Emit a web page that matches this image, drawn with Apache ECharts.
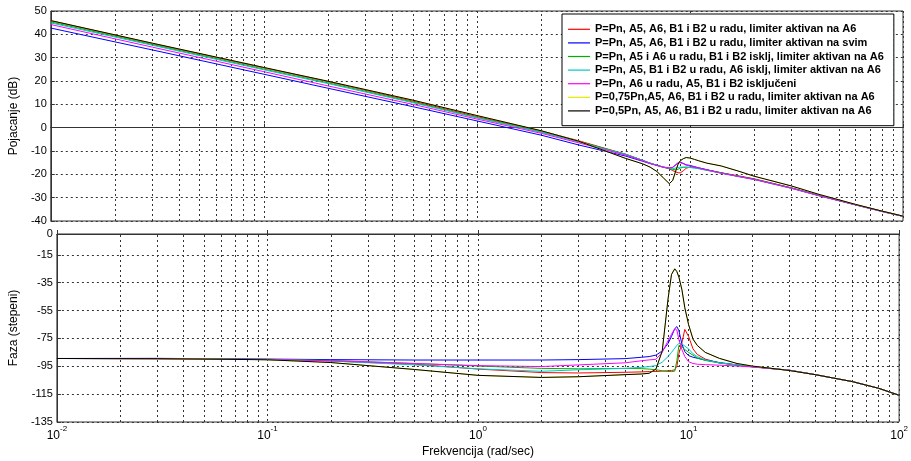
<!DOCTYPE html>
<html>
<head>
<meta charset="utf-8">
<script src="https://cdn.jsdelivr.net/npm/echarts@6/dist/echarts.min.js"></script>
<style>
  html, body { margin: 0; padding: 0; background: #fff; }
  #chart { width: 911px; height: 461px; }
</style>
</head>
<body>
<div id="chart"></div>
<script>
// Frequency points (rad/sec), shared by all curves
const freq = [0.01, 0.03, 0.1, 0.2, 0.5, 1, 2, 3, 5, 6, 6.5, 7, 7.5, 8, 8.3, 8.6, 8.8, 9, 9.3, 9.6, 10, 10.5, 11, 12, 14, 17, 20, 30, 40, 60, 80, 100];

// Series names
const names = [
  'P=Pn, A5, A6, B1 i B2 u radu, limiter aktivan na A6',
  'P=Pn, A5, A6, B1 i B2 u radu, limiter aktivan na svim',
  'P=Pn, A5 i A6 u radu, B1 i B2 isklj, limiter aktivan na A6',
  'P=Pn, A5, B1 i B2 u radu, A6 isklj, limiter aktivan na A6',
  'P=Pn, A6 u radu, A5, B1 i B2 isključeni',
  'P=0,75Pn,A5, A6, B1 i B2 u radu, limiter aktivan na A6',
  'P=0,5Pn, A5, A6, B1 i B2 u radu, limiter aktivan na A6'
];
const colors = ['#ff0000', '#0000ff', '#00b000', '#00c8c8', '#ff00ff', '#e6e600', '#000000'];

// Gain (dB)
const magRed     = [45.8, 36.0, 25.6, 19.7, 11.4, 4.8, -1.4, -5.6, -11.4, -14.0, -15.2, -16.1, -17.0, -17.6, -18.4, -19.0, -19.3, -19.4, -18.5, -17.4, -16.9, -17.0, -17.4, -18.1, -19.3, -20.7, -21.9, -25.8, -28.9, -33.0, -35.8, -37.9];
const magBlue    = [42.7, 33.3, 22.9, 16.9, 9.0, 2.9, -3.2, -7.4, -12.2, -14.4, -15.4, -16.2, -16.9, -17.3, -17.0, -15.8, -15.0, -14.8, -15.3, -15.9, -16.2, -16.7, -17.2, -18.0, -19.4, -20.9, -22.1, -25.9, -29.0, -33.1, -35.9, -38.0];
const magGreen   = [45.3, 35.6, 25.1, 19.2, 11.0, 4.4, -1.8, -5.9, -11.4, -14.0, -15.2, -16.1, -16.9, -17.5, -17.9, -18.1, -17.8, -17.3, -17.0, -16.9, -17.0, -17.2, -17.5, -18.2, -19.4, -20.9, -22.1, -25.9, -29.0, -33.1, -35.9, -38.0];
const magCyan    = [44.9, 35.3, 24.8, 18.9, 10.7, 4.2, -2.0, -6.1, -11.5, -14.0, -15.2, -16.1, -16.9, -17.4, -17.5, -17.3, -17.1, -16.9, -16.9, -17.0, -17.1, -17.3, -17.6, -18.3, -19.5, -21.0, -22.2, -26.0, -29.1, -33.1, -36.0, -38.0];
const magMagenta = [44.2, 34.5, 24.0, 17.9, 10.0, 3.7, -2.4, -6.5, -11.8, -14.2, -15.3, -16.2, -16.9, -17.3, -17.0, -15.9, -15.2, -15.0, -15.5, -16.1, -16.4, -16.9, -17.3, -18.1, -19.5, -21.0, -22.2, -26.0, -29.1, -33.1, -36.0, -38.0];
const magYellow  = [45.9, 36.2, 25.8, 19.9, 11.8, 5.2, -1.3, -5.8, -13.2, -15.5, -16.9, -18.8, -21.5, -24.0, -22.6, -18.2, -15.6, -14.2, -13.3, -12.8, -13.0, -13.6, -14.2, -15.2, -16.4, -18.7, -20.8, -25.0, -28.5, -32.9, -35.8, -37.9];
const magBlack   = [45.9, 36.2, 25.8, 19.9, 11.8, 5.2, -1.3, -5.8, -13.2, -15.5, -16.9, -18.8, -21.5, -24.0, -22.6, -18.2, -15.6, -14.2, -13.3, -12.8, -13.0, -13.6, -14.2, -15.2, -16.4, -18.7, -20.8, -25.0, -28.5, -32.9, -35.8, -37.9];

// Phase (degrees)
const phRed     = [-89.4, -89.6, -90.2, -91.2, -93.5, -97.0, -99.5, -99.8, -99.3, -99.0, -98.8, -98.7, -98.5, -98.2, -98.0, -97.6, -95.0, -86.0, -78.0, -68.5, -73.5, -82.5, -86.5, -89.8, -92.6, -94.2, -95.3, -97.8, -101.0, -106.0, -110.8, -115.8];
const phBlue    = [-89.4, -89.3, -89.8, -90.2, -90.5, -90.5, -90.5, -90.2, -89.5, -88.5, -88.0, -87.0, -84.0, -78.5, -73.5, -68.0, -66.5, -69.5, -79.0, -84.5, -87.3, -88.5, -89.2, -90.5, -92.3, -94.0, -95.2, -97.8, -101.0, -106.0, -110.8, -115.8];
const phGreen   = [-89.4, -89.5, -90.0, -90.8, -93.0, -94.8, -96.5, -96.8, -96.5, -96.7, -97.0, -97.5, -98.2, -98.7, -98.8, -98.5, -91.0, -80.0, -81.0, -83.0, -85.0, -87.0, -89.0, -90.8, -92.6, -94.1, -95.3, -97.8, -101.0, -106.0, -110.8, -115.8];
const phCyan    = [-89.4, -89.6, -90.2, -91.2, -94.0, -96.8, -98.6, -97.5, -96.5, -95.7, -95.2, -94.5, -92.0, -88.0, -85.0, -82.0, -80.0, -78.5, -79.0, -80.5, -82.5, -86.0, -88.0, -90.5, -92.5, -94.0, -95.3, -97.8, -101.0, -106.0, -110.8, -115.8];
const phMagenta = [-89.4, -89.6, -90.1, -91.0, -93.0, -94.5, -95.2, -94.0, -92.5, -91.0, -90.4, -90.0, -85.0, -76.5, -72.0, -68.0, -69.0, -76.0, -83.0, -88.0, -91.7, -93.0, -93.5, -93.8, -94.2, -94.8, -95.5, -97.8, -101.0, -106.0, -110.8, -115.8];
const phYellow  = [-89.4, -89.5, -90.3, -92.3, -97.3, -101.5, -103.0, -102.5, -101.0, -100.5, -100.0, -97.0, -84.0, -46.0, -29.0, -25.0, -27.0, -31.0, -40.0, -53.0, -65.0, -75.5, -80.0, -85.0, -89.3, -93.0, -94.8, -98.0, -101.0, -106.0, -110.8, -115.8];
const phBlack   = [-89.4, -89.5, -90.3, -92.3, -97.3, -101.5, -103.0, -102.5, -101.0, -100.5, -100.0, -97.0, -84.0, -46.0, -29.0, -25.0, -27.0, -31.0, -40.0, -53.0, -65.0, -75.5, -80.0, -85.0, -89.3, -93.0, -94.8, -98.0, -101.0, -106.0, -110.8, -115.8];

// Axis tick values
const magTicks = { min: -40, max: 50, step: 10 };
const phTicks = { min: -135, max: 0, step: 20 };
const freqRange = { min: 0.01, max: 100 };
const minorMultipliers = [2, 3, 4, 5, 6, 7, 8, 9];
const decades = [0.01, 0.1, 1, 10];

const magSets = [magRed, magBlue, magGreen, magCyan, magMagenta, magYellow, magBlack];
const phSets = [phRed, phBlue, phGreen, phCyan, phMagenta, phYellow, phBlack];

const FONT = "'Liberation Sans', Arial, sans-serif";
const gridLine = { type: [2, 3], color: '#333', width: 1 };

// Minor vertical grid lines of the logarithmic frequency axis
const minorLines = [];
decades.forEach(d => minorMultipliers.forEach(m => minorLines.push({ xAxis: +(d * m).toPrecision(3) })));

function pairs(values) {
  return freq.map((f, i) => [f, values[i]]);
}

const series = [];
[0, 1].forEach(k => {
  series.push({
    name: 'minor-grid-' + k, type: 'line', xAxisIndex: k, yAxisIndex: k, data: [],
    silent: true, animation: false, z: 1,
    markLine: {
      z: 1, silent: true, symbol: ['none', 'none'], animation: false,
      label: { show: false }, lineStyle: gridLine, emphasis: { disabled: true },
      data: minorLines
    }
  });
});
names.forEach((name, i) => {
  series.push({
    name, type: 'line', xAxisIndex: 0, yAxisIndex: 0,
    data: pairs(magSets[i]), symbol: 'none', showSymbol: false,
    lineStyle: { width: 1, color: colors[i] }, itemStyle: { color: colors[i] },
    animation: false
  });
});
names.forEach((name, i) => {
  series.push({
    name, type: 'line', xAxisIndex: 1, yAxisIndex: 1,
    data: pairs(phSets[i]), symbol: 'none', showSymbol: false,
    lineStyle: { width: 1, color: colors[i] }, itemStyle: { color: colors[i] },
    animation: false
  });
});

function xAxisBase(idx, showLabels) {
  return {
    type: 'log', logBase: 10, gridIndex: idx,
    min: freqRange.min, max: freqRange.max,
    axisLine: { show: true, lineStyle: { color: '#333' } },
    axisTick: { show: true, inside: true, length: 4, lineStyle: { color: '#333' } },
    splitLine: { show: true, lineStyle: gridLine },
    minorTick: { show: false }, minorSplitLine: { show: false },
    axisLabel: showLabels ? {
      show: true, margin: 3, color: '#000', fontFamily: FONT,
      showMinLabel: true, showMaxLabel: true,
      formatter: v => '{b|10}{e|' + Math.round(Math.log10(v)) + '}',
      rich: {
        b: { fontSize: 12, fontFamily: FONT, color: '#000', padding: [5, 0, 0, 0] },
        e: { fontSize: 8, fontFamily: FONT, color: '#000', verticalAlign: 'top' }
      }
    } : { show: false },
    name: showLabels ? 'Frekvencija (rad/sec)' : '',
    nameLocation: 'middle', nameGap: 24,
    nameTextStyle: { fontSize: 12, fontFamily: FONT, color: '#000' }
  };
}

function yAxisBase(idx, ticks, title) {
  return {
    type: 'value', gridIndex: idx,
    min: ticks.min, max: ticks.max, interval: ticks.step,
    axisLine: { show: true, lineStyle: { color: '#333' } },
    axisTick: { show: true, inside: true, length: 4, lineStyle: { color: '#333' } },
    splitLine: { show: true, lineStyle: gridLine },
    axisLabel: { show: true, margin: 4, fontSize: 11, color: '#000', fontFamily: FONT, showMinLabel: true, showMaxLabel: true },
    name: title, nameLocation: 'middle', nameGap: 21,
    nameTextStyle: { fontSize: 12, fontFamily: FONT, color: '#000' }
  };
}

const chart = echarts.init(document.getElementById('chart'), null, { renderer: 'canvas' });
chart.setOption({
  backgroundColor: '#fff',
  animation: false,
  grid: [
    { left: 49, right: 8, top: 11, height: 210, show: true, borderColor: '#333', borderWidth: 1, backgroundColor: 'transparent' },
    { left: 49, right: 8, top: 234, height: 188, show: true, borderColor: '#333', borderWidth: 1, backgroundColor: 'transparent' }
  ],
  legend: {
    data: names.map(n => ({ name: n, icon: 'rect' })),
    orient: 'vertical', left: 562, top: 14, z: 20,
    padding: [8.5, 10, 8, 6], itemGap: 0, itemWidth: 22, itemHeight: 1.2,
    backgroundColor: '#fff', borderColor: '#000', borderWidth: 1,
    selectedMode: false,
    textStyle: { fontSize: 11, fontWeight: 'bold', fontFamily: FONT, color: '#000', lineHeight: 13.6 }
  },
  xAxis: [xAxisBase(0, false), xAxisBase(1, true)],
  yAxis: [yAxisBase(0, magTicks, 'Pojacanje (dB)'), yAxisBase(1, phTicks, 'Faza (stepeni)')],
  series
});
</script>
</body>
</html>
